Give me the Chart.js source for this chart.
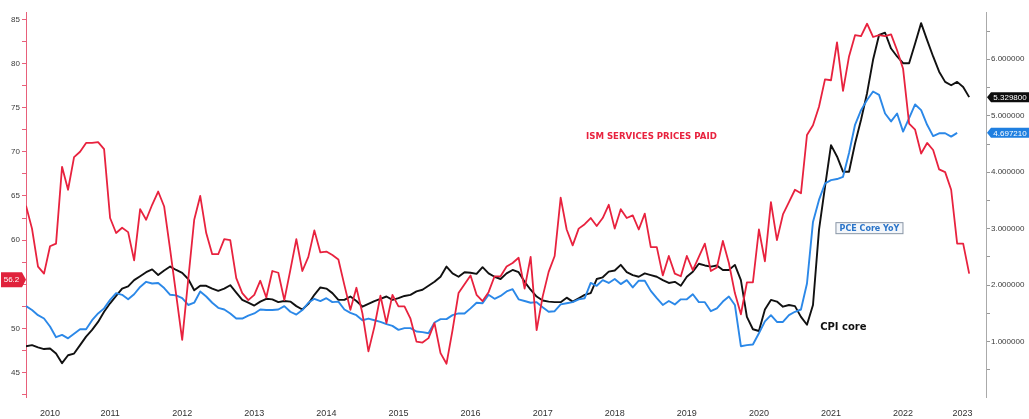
<!DOCTYPE html>
<html>
<head>
<meta charset="utf-8">
<script src="https://cdn.jsdelivr.net/npm/chart.js@4.4.0/dist/chart.umd.min.js"></script>
<style>
  html, body { margin: 0; padding: 0; background: #fff; }
  #wrap { width: 1029px; height: 419px; }
</style>
</head>
<body>
<div id="wrap"><canvas id="chart" width="1029" height="419"></canvas></div>
<script>
// x is a month index: Jan 2010 = 0, each value sits at its month end
const years = ['2010', '2011', '2012', '2013', '2014', '2015', '2016',
  '2017', '2018', '2019', '2020', '2021', '2022', '2023'];

// ISM services prices paid (left axis), Apr 2010 .. May 2023
const ismStart = 3;
const ismPricesPaid = [
  63.9, 61.3, 57.0, 56.2, 59.3, 59.6, 68.3, 65.7, 69.4, 70.0,
  71.0, 71.0, 71.1, 70.3, 62.5, 60.8, 61.4, 60.9, 57.7, 63.5,
  62.3, 64.0, 65.5, 63.8, 58.9, 53.8, 48.7, 55.5, 62.3, 65.0,
  60.8, 58.4, 58.4, 60.1, 60.0, 55.7, 54.0, 53.2, 53.8, 55.4,
  53.5, 56.5, 56.3, 53.2, 56.6, 60.1, 56.5, 58.1, 61.1, 58.6,
  58.7, 58.3, 57.8, 54.9, 52.1, 54.6, 51.7, 47.4, 50.2, 53.7,
  50.6, 53.8, 52.5, 52.5, 51.1, 48.5, 48.4, 48.9, 50.6, 47.2,
  46.0, 49.8, 54.0, 55.0, 56.0, 53.8, 53.1, 54.1, 55.9, 55.9,
  57.0, 57.4, 58.0, 54.5, 58.1, 49.8, 53.6, 56.4, 58.2, 64.8,
  61.2, 59.4, 61.3, 61.8, 62.5, 61.6, 62.5, 64.0, 61.3, 63.5,
  62.5, 62.8, 61.2, 63.0, 59.2, 59.2, 56.0, 58.2, 56.2, 55.9,
  58.2, 56.6, 58.1, 59.6, 56.5, 56.9, 59.9, 57.4, 54.0, 51.6,
  55.2, 55.2, 61.2, 57.6, 64.3, 60.0, 62.9, 64.3, 65.7, 65.3,
  71.9, 73.0, 75.1, 78.2, 78.1, 82.4, 76.9, 80.8, 83.2, 83.1,
  84.5, 83.0, 83.2, 83.1, 83.3, 81.5, 79.4, 73.2, 72.5, 69.8,
  71.0, 70.2, 68.0, 67.7, 65.7, 59.6, 59.6, 56.2
];

// CPI core YoY (right axis), Apr 2010 .. May 2023
const cpiStart = 3;
const cpiCore = [
  0.92, 0.94, 0.90, 0.87, 0.88, 0.79, 0.62, 0.76, 0.79, 0.94,
  1.09, 1.21, 1.35, 1.53, 1.68, 1.81, 1.94, 1.98, 2.09, 2.16,
  2.23, 2.28, 2.18, 2.26, 2.33, 2.27, 2.22, 2.11, 1.91, 1.99,
  1.99, 1.94, 1.90, 1.94, 2.00, 1.87, 1.74, 1.69, 1.64, 1.71,
  1.76, 1.75, 1.70, 1.72, 1.71, 1.63, 1.57, 1.67, 1.83, 1.96,
  1.94, 1.86, 1.74, 1.74, 1.80, 1.72, 1.62, 1.67, 1.72, 1.76,
  1.80, 1.74, 1.77, 1.81, 1.83, 1.89, 1.92, 1.99, 2.06, 2.15,
  2.33, 2.21, 2.15, 2.23, 2.22, 2.20, 2.32, 2.21, 2.15, 2.11,
  2.21, 2.27, 2.23, 2.06, 1.92, 1.80, 1.73, 1.71, 1.70, 1.70,
  1.78, 1.71, 1.77, 1.83, 1.86, 2.11, 2.14, 2.24, 2.26, 2.36,
  2.23, 2.18, 2.15, 2.21, 2.18, 2.15, 2.09, 2.04, 2.06, 1.99,
  2.15, 2.24, 2.38, 2.35, 2.33, 2.35, 2.27, 2.27, 2.36, 2.09,
  1.44, 1.22, 1.19, 1.57, 1.74, 1.71, 1.62, 1.65, 1.63, 1.44,
  1.30, 1.65, 2.98, 3.74, 4.48, 4.28, 4.01, 4.01, 4.51, 4.93,
  5.40, 5.99, 6.43, 6.47, 6.19, 6.05, 5.93, 5.93, 6.28, 6.64,
  6.34, 6.05, 5.78, 5.60, 5.54, 5.60, 5.51, 5.3298
];

// PCE core YoY (right axis), Apr 2010 .. Mar 2023
const pceStart = 3;
const pceCore = [
  1.63, 1.56, 1.47, 1.41, 1.27, 1.08, 1.12, 1.06, 1.14, 1.22,
  1.22, 1.38, 1.50, 1.59, 1.74, 1.86, 1.83, 1.75, 1.84, 1.97,
  2.06, 2.03, 2.04, 1.95, 1.83, 1.82, 1.77, 1.65, 1.69, 1.89,
  1.80, 1.69, 1.60, 1.57, 1.50, 1.41, 1.41, 1.46, 1.50, 1.57,
  1.56, 1.56, 1.57, 1.63, 1.53, 1.48, 1.56, 1.69, 1.76, 1.72,
  1.77, 1.70, 1.71, 1.57, 1.51, 1.47, 1.38, 1.41, 1.38, 1.35,
  1.31, 1.28, 1.21, 1.24, 1.24, 1.18, 1.17, 1.15, 1.34, 1.40,
  1.40, 1.47, 1.50, 1.50, 1.59, 1.69, 1.68, 1.83, 1.76, 1.81,
  1.89, 1.93, 1.75, 1.72, 1.69, 1.70, 1.61, 1.53, 1.54, 1.66,
  1.68, 1.70, 1.75, 1.77, 2.04, 1.99, 2.09, 2.04, 2.11, 2.02,
  2.09, 1.96, 2.08, 2.08, 1.90, 1.77, 1.65, 1.72, 1.66, 1.75,
  1.75, 1.84, 1.70, 1.70, 1.54, 1.59, 1.71, 1.80, 1.65, 0.92,
  0.94, 0.95, 1.15, 1.36, 1.47, 1.35, 1.35, 1.47, 1.53, 1.57,
  2.03, 3.12, 3.51, 3.80, 3.86, 3.88, 3.92, 4.34, 4.84, 5.10,
  5.28, 5.43, 5.37, 5.04, 4.90, 5.04, 4.72, 4.96, 5.20, 5.10,
  4.84, 4.64, 4.69, 4.69, 4.63, 4.697210
];

const RED = '#e8223e';
const BLUE = '#2b88e8';
const BLACK = '#111111';
const X_MIN = 3, X_MAX = 162.8;

function toPoints(start, values) {
  return values.map((v, k) => ({ x: start + k, y: v }));
}

// year labels sit in the middle of the visible part of each year
function yearCenter(k) {
  const lo = Math.max(X_MIN, 12 * k - 1);
  const hi = Math.min(X_MAX, 12 * k + 11);
  return (lo + hi) / 2;
}

function tag(ctx, text, x, y, w, color, pointLeft) {
  const h = pointLeft ? 10 : 15;
  ctx.fillStyle = color;
  ctx.beginPath();
  if (pointLeft) {
    ctx.moveTo(x, y);
    ctx.lineTo(x + 4, y - h / 2);
    ctx.lineTo(x + w, y - h / 2);
    ctx.lineTo(x + w, y + h / 2);
    ctx.lineTo(x + 4, y + h / 2);
  } else {
    ctx.moveTo(x, y);
    ctx.lineTo(x - 4, y - h / 2);
    ctx.lineTo(x - w, y - h / 2);
    ctx.lineTo(x - w, y + h / 2);
    ctx.lineTo(x - 4, y + h / 2);
  }
  ctx.closePath();
  ctx.fill();
  ctx.fillStyle = '#fff';
  ctx.textBaseline = 'middle';
  ctx.textAlign = 'center';
  ctx.fillText(text, pointLeft ? x + 2 + w / 2 : x - 2 - w / 2, y + 0.5);
}

const notesPlugin = {
  id: 'notes',
  afterDatasetsDraw(chart) {
    const { ctx } = chart;
    const xs = chart.scales.x, yl = chart.scales.yLeft, yr = chart.scales.yRight;
    ctx.save();

    ctx.font = 'bold 8.6px "DejaVu Sans"';
    ctx.fillStyle = RED;
    ctx.textAlign = 'center';
    ctx.textBaseline = 'middle';
    ctx.fillText('ISM SERVICES PRICES PAID', xs.getPixelForValue(107.1), yl.getPixelForValue(71.7));

    // PCE label box
    const px = xs.getPixelForValue(143.4), py = yr.getPixelForValue(3.01);
    ctx.fillStyle = '#f3f6fa';
    ctx.fillRect(px - 34, py - 6, 68, 12);
    ctx.strokeStyle = '#8a96a6';
    ctx.lineWidth = 1;
    ctx.strokeRect(px - 34 + 0.5, py - 6 + 0.5, 67, 11);
    ctx.font = 'bold 8px "DejaVu Sans"';
    ctx.fillStyle = '#2a74c9';
    ctx.fillText('PCE Core YoY', px, py + 0.5);

    ctx.font = 'bold 10px "DejaVu Sans"';
    ctx.fillStyle = BLACK;
    ctx.textAlign = 'left';
    ctx.fillText('CPI core', xs.getPixelForValue(135.2), yr.getPixelForValue(1.26));

    // last value tags
    const ca = chart.chartArea;
    ctx.font = '8px "Liberation Sans"';
    tag(ctx, ismPricesPaid[ismPricesPaid.length - 1].toFixed(1), ca.left, yl.getPixelForValue(ismPricesPaid[ismPricesPaid.length - 1]) + 6, 25, '#e0223c', false);
    ctx.font = '8px "Liberation Sans"';
    tag(ctx, cpiCore[cpiCore.length - 1].toFixed(6), ca.right + 1, yr.getPixelForValue(cpiCore[cpiCore.length - 1]), 42, '#0d0d0d', true);
    ctx.font = '8px "Liberation Sans"';
    tag(ctx, pceCore[pceCore.length - 1].toFixed(6), ca.right + 1, yr.getPixelForValue(pceCore[pceCore.length - 1]), 42, '#1f7fe0', true);
    ctx.restore();
  }
};

new Chart(document.getElementById('chart'), {
  type: 'line',
  data: {
    datasets: [
      {
        label: 'ISM SERVICES PRICES PAID',
        data: toPoints(ismStart, ismPricesPaid),
        yAxisID: 'yLeft',
        borderColor: RED,
        borderWidth: 1.8
      },
      {
        label: 'PCE Core YoY',
        data: toPoints(pceStart, pceCore),
        yAxisID: 'yRight',
        borderColor: BLUE,
        borderWidth: 1.9
      },
      {
        label: 'CPI core',
        data: toPoints(cpiStart, cpiCore),
        yAxisID: 'yRight',
        borderColor: BLACK,
        borderWidth: 1.9
      }
    ]
  },
  options: {
    responsive: false,
    animation: false,
    layout: { padding: { top: 12, left: 0, right: 0, bottom: 0 } },
    elements: {
      point: { radius: 0 },
      line: { tension: 0, borderJoinStyle: 'round', fill: false }
    },
    plugins: { legend: { display: false }, tooltip: { enabled: false } },
    scales: {
      x: {
        type: 'linear',
        min: X_MIN,
        max: X_MAX,
        grid: { display: false, drawTicks: false },
        border: { display: false },
        afterBuildTicks: s => { s.ticks = years.map((y, k) => ({ value: yearCenter(k) })); },
        afterFit: s => { s.height = 22; },
        ticks: {
          autoSkip: false,
          maxRotation: 0,
          padding: 11,
          color: '#333',
          font: { family: 'Liberation Sans', size: 9 },
          callback: (v, i) => years[i]
        }
      },
      yLeft: {
        type: 'linear',
        position: 'left',
        min: 42.23,
        max: 85.83,
        afterBuildTicks: s => {
          const t = [];
          for (let v = 42.5; v <= 85; v += 2.5) t.push({ value: v });
          s.ticks = t;
        },
        afterFit: s => { s.width = 26; },
        grid: { drawOnChartArea: false, drawTicks: true, tickLength: 4, tickColor: '#e8607a' },
        border: { display: true, color: '#e8607a', width: 1 },
        ticks: {
          autoSkip: false,
          padding: 2,
          color: '#3a3a3a',
          font: { family: 'Liberation Sans', size: 8 },
          callback: v => (v % 5 === 0 ? String(v) : '')
        }
      },
      yRight: {
        type: 'linear',
        position: 'right',
        min: 0.021,
        max: 6.837,
        afterBuildTicks: s => {
          const t = [];
          for (let v = 0.5; v <= 6.5; v += 0.5) t.push({ value: v });
          s.ticks = t;
        },
        afterFit: s => { s.width = 43; },
        grid: { drawOnChartArea: false, drawTicks: true, tickLength: 4, tickColor: '#999' },
        border: { display: true, color: '#aaa', width: 1 },
        ticks: {
          autoSkip: false,
          padding: 1,
          color: '#3a3a3a',
          font: { family: 'Liberation Sans', size: 8 },
          callback: v => (Number.isInteger(v) ? v.toFixed(6) : '')
        }
      }
    }
  },
  plugins: [notesPlugin]
});
</script>
</body>
</html>
